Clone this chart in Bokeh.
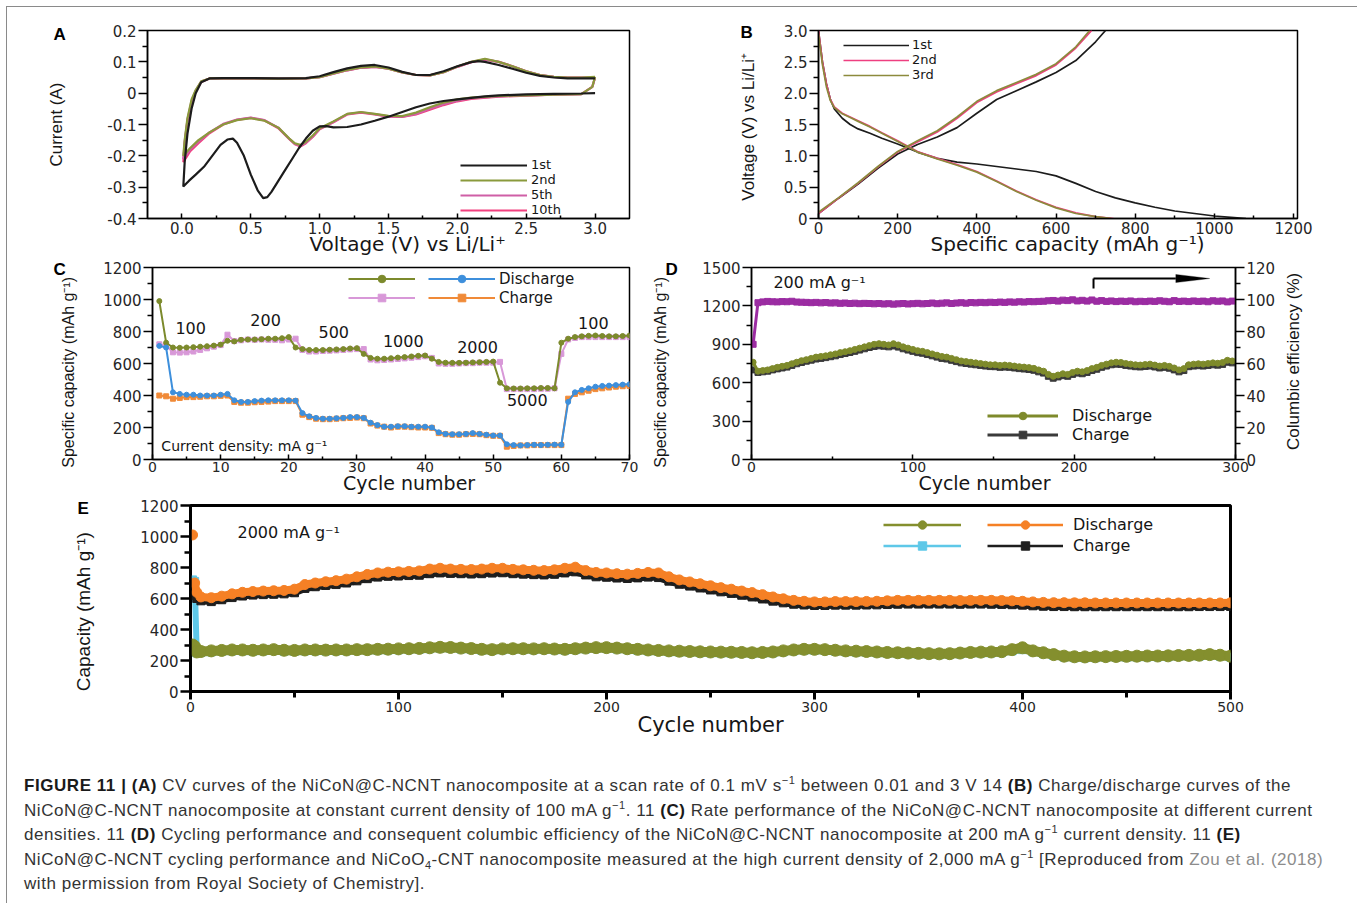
import math
from bokeh.plotting import figure
from bokeh.models import (Range1d, LinearAxis, FixedTicker, Label, Legend, LegendItem,
                          Div, Arrow, PolyAnnotation)
from bokeh.layouts import column, row
from bokeh.embed import file_html
from bokeh.resources import INLINE

# ------------------------------------------------------------------ data
# Panel A : CV curves (voltage V, current A); each loop = cathodic sweep then anodic sweep
A_V_1ST = [3.0, 2.9, 2.7, 2.5, 2.3, 2.2, 2.1, 2.0, 1.9, 1.8,
           1.7, 1.6, 1.5, 1.4, 1.3, 1.2, 1.1, 1.05, 1.0, 0.95,
           0.9, 0.85, 0.8, 0.75, 0.7, 0.65, 0.62, 0.59, 0.55, 0.5,
           0.45, 0.4, 0.37, 0.33, 0.28, 0.22, 0.16, 0.1, 0.05, 0.01,
           0.01, 0.02, 0.04, 0.07, 0.1, 0.14, 0.2, 0.3, 0.5, 0.7,
           0.9, 1.0, 1.1, 1.2, 1.3, 1.4, 1.5, 1.6, 1.7, 1.8,
           1.9, 2.0, 2.1, 2.15, 2.2, 2.3, 2.4, 2.5, 2.6, 2.7,
           2.8, 2.9, 3.0]
A_I_1ST = [0.0, -0.001, -0.002, -0.004, -0.007, -0.01, -0.015, -0.02, -0.025, -0.033,
           -0.045, -0.06, -0.075, -0.088, -0.1, -0.108, -0.109, -0.105, -0.106, -0.12,
           -0.145, -0.175, -0.21, -0.245, -0.28, -0.315, -0.332, -0.335, -0.31, -0.26,
           -0.2, -0.158, -0.145, -0.148, -0.165, -0.2, -0.235, -0.26, -0.28, -0.298,
           -0.298, -0.22, -0.13, -0.05, 0.0, 0.035, 0.047, 0.048, 0.048, 0.047,
           0.048, 0.054, 0.067, 0.079, 0.087, 0.09, 0.082, 0.068, 0.058, 0.058,
           0.07, 0.086, 0.099, 0.102, 0.1, 0.09, 0.078, 0.065, 0.055, 0.05,
           0.047, 0.047, 0.047]
A_V_CYC = [3.0, 2.98, 2.9, 2.7, 2.5, 2.3, 2.1, 2.0, 1.9, 1.8,
           1.7, 1.6, 1.5, 1.4, 1.3, 1.2, 1.1, 1.0, 0.95, 0.9,
           0.86, 0.82, 0.78, 0.7, 0.6, 0.5, 0.4, 0.3, 0.2, 0.12,
           0.06, 0.01,
           0.01, 0.02, 0.04, 0.07, 0.1, 0.14, 0.2, 0.3, 0.5, 0.7,
           0.9, 1.0, 1.1, 1.2, 1.3, 1.4, 1.5, 1.6, 1.7, 1.8,
           1.9, 2.0, 2.1, 2.2, 2.3, 2.4, 2.5, 2.6, 2.7, 2.8,
           2.9, 3.0]
A_I_2ND = [0.052, 0.02, -0.003, -0.005, -0.007, -0.009, -0.014, -0.02, -0.03, -0.045,
           -0.062, -0.073, -0.072, -0.066, -0.06, -0.066, -0.09, -0.112, -0.135, -0.155,
           -0.165, -0.16, -0.145, -0.11, -0.088, -0.08, -0.086, -0.1, -0.125, -0.15,
           -0.175, -0.2,
           -0.2, -0.15, -0.08, -0.02, 0.01, 0.038, 0.047, 0.048, 0.047, 0.046,
           0.047, 0.051, 0.063, 0.074, 0.082, 0.085, 0.078, 0.066, 0.058, 0.057,
           0.067, 0.085, 0.1, 0.11, 0.1, 0.086, 0.07, 0.058, 0.052, 0.05,
           0.05, 0.052]
A_I_5TH = [0.05, 0.02, -0.003, -0.005, -0.007, -0.01, -0.016, -0.024, -0.035, -0.05,
           -0.066, -0.075, -0.074, -0.067, -0.061, -0.067, -0.092, -0.114, -0.138, -0.158,
           -0.168, -0.162, -0.146, -0.11, -0.086, -0.078, -0.084, -0.098, -0.125, -0.155,
           -0.18, -0.21,
           -0.21, -0.155, -0.085, -0.025, 0.008, 0.037, 0.047, 0.048, 0.047, 0.046,
           0.047, 0.051, 0.062, 0.073, 0.081, 0.084, 0.078, 0.066, 0.058, 0.057,
           0.067, 0.084, 0.099, 0.108, 0.1, 0.086, 0.07, 0.058, 0.052, 0.05,
           0.05, 0.05]
A_I_10TH = [0.05, 0.02, -0.003, -0.005, -0.008, -0.011, -0.018, -0.026, -0.038, -0.053,
            -0.068, -0.076, -0.075, -0.068, -0.062, -0.068, -0.093, -0.115, -0.14, -0.16,
            -0.17, -0.163, -0.147, -0.112, -0.087, -0.079, -0.085, -0.1, -0.128, -0.16,
            -0.185, -0.22,
            -0.22, -0.16, -0.09, -0.03, 0.006, 0.036, 0.047, 0.048, 0.047, 0.046,
            0.047, 0.051, 0.062, 0.073, 0.081, 0.084, 0.078, 0.066, 0.058, 0.057,
            0.067, 0.084, 0.099, 0.107, 0.1, 0.086, 0.07, 0.058, 0.052, 0.05,
            0.05, 0.05]
A_XTICKS = [0.0, 0.5, 1.0, 1.5, 2.0, 2.5, 3.0]
A_XLABELS = ["0.0", "0.5", "1.0", "1.5", "2.0", "2.5", "3.0"]
A_YTICKS = [-0.4, -0.3, -0.2, -0.1, 0.0, 0.1, 0.2]
A_YLABELS = ["-0.4", "-0.3", "-0.2", "-0.1", "0", "0.1", "0.2"]

# Panel B : charge / discharge profiles (capacity mAh/g, voltage V)
B_Q_DIS1 = [0, 5, 10, 20, 30, 40, 60, 80, 100, 130, 160, 200, 250, 300, 350, 400, 450,
            500, 550, 600, 650, 700, 750, 800, 850, 900, 950, 1000, 1050, 1080]
B_V_DIS1 = [3.0, 2.75, 2.5, 2.15, 1.9, 1.75, 1.6, 1.5, 1.43, 1.36, 1.28, 1.19, 1.06, 0.96,
            0.9, 0.87, 0.83, 0.79, 0.75, 0.68, 0.56, 0.43, 0.33, 0.25, 0.18, 0.12, 0.08,
            0.04, 0.015, 0.0]
B_Q_CHG1 = [0, 50, 100, 150, 200, 250, 300, 350, 400, 450, 500, 550, 600, 650, 700, 725]
B_V_CHG1 = [0.08, 0.32, 0.55, 0.8, 1.03, 1.18, 1.3, 1.45, 1.68, 1.9, 2.04, 2.18, 2.33,
            2.52, 2.82, 3.0]
B_Q_DIS2 = [0, 5, 10, 20, 30, 40, 60, 80, 100, 130, 160, 200, 250, 300, 350, 400, 450,
            500, 550, 600, 650, 700, 745]
B_V_DIS2 = [3.0, 2.75, 2.5, 2.15, 1.9, 1.78, 1.68, 1.62, 1.56, 1.47, 1.37, 1.24, 1.07,
            0.96, 0.86, 0.75, 0.6, 0.44, 0.3, 0.18, 0.09, 0.03, 0.0]
B_Q_CHG2 = [0, 50, 100, 150, 200, 250, 300, 350, 400, 450, 500, 550, 600, 650, 690]
B_V_CHG2 = [0.08, 0.32, 0.56, 0.82, 1.06, 1.22, 1.38, 1.6, 1.85, 2.02, 2.15, 2.28, 2.45,
            2.72, 3.0]
B_Q_DIS3 = [0, 5, 10, 20, 30, 40, 60, 80, 100, 130, 160, 200, 250, 300, 350, 400, 450,
            500, 550, 600, 650, 700, 740]
B_V_DIS3 = [2.95, 2.7, 2.45, 2.1, 1.88, 1.77, 1.67, 1.61, 1.55, 1.46, 1.36, 1.23, 1.06,
            0.95, 0.85, 0.74, 0.59, 0.43, 0.29, 0.17, 0.08, 0.03, 0.0]
B_Q_CHG3 = [0, 50, 100, 150, 200, 250, 300, 350, 400, 450, 500, 550, 600, 650, 685]
B_V_CHG3 = [0.1, 0.33, 0.57, 0.83, 1.07, 1.24, 1.4, 1.62, 1.87, 2.04, 2.17, 2.3, 2.47,
            2.74, 3.0]
B_XTICKS = [0, 200, 400, 600, 800, 1000, 1200]
B_XLABELS = ["0", "200", "400", "600", "800", "1000", "1200"]
B_YTICKS = [0.0, 0.5, 1.0, 1.5, 2.0, 2.5, 3.0]
B_YLABELS = ["0", "0.5", "1.0", "1.5", "2.0", "2.5", "3.0"]

# Panel C : rate performance, cycles 1..70
C_CYCLES = list(range(1, 71))
C_DIS_NICON = [990, 730, 700, 698, 700, 702, 705, 708, 712, 718,
               742, 738, 748, 750, 750, 752, 755, 755, 758, 765,
               700, 690, 685, 684, 684, 686, 688, 690, 694, 696,
               660, 635, 630, 630, 633, 637, 640, 644, 648, 650,
               630, 610, 605, 604, 604, 605, 607, 608, 610, 612,
               480, 445, 444, 444, 445, 445, 447, 447, 445, 730,
               755, 765, 770, 773, 775, 772, 770, 770, 772, 775]
C_CHG_NICON = [720, 712, 670, 668, 670, 675, 685, 695, 705, 715,
               780, 740, 745, 750, 748, 750, 748, 748, 745, 750,
               755, 685, 675, 675, 678, 680, 682, 685, 688, 690,
               690, 625, 620, 622, 625, 628, 632, 636, 640, 645,
               635, 600, 598, 598, 600, 602, 602, 605, 605, 605,
               610, 440, 440, 440, 440, 440, 442, 442, 445, 660,
               750, 760, 765, 765, 765, 765, 765, 765, 765, 765]
C_DIS_REF = [710, 700, 420, 410, 405, 405, 400, 400, 400, 405,
             410, 370, 360, 360, 365, 368, 370, 370, 370, 370,
             368, 290, 270, 260, 255, 255, 258, 260, 265, 265,
             260, 230, 215, 205, 205, 208, 208, 205, 205, 205,
             200, 170, 160, 158, 158, 160, 165, 160, 155, 150,
             150, 95, 90, 88, 90, 92, 90, 92, 93, 92,
             360, 420, 435, 445, 455, 460, 462, 465, 468, 470]
C_CHG_REF = [400, 395, 380, 385, 390, 390, 392, 395, 395, 398,
             400, 360, 355, 355, 358, 360, 362, 365, 365, 365,
             365, 280, 265, 255, 252, 252, 255, 258, 260, 262,
             258, 225, 212, 205, 200, 205, 205, 202, 200, 200,
             198, 165, 158, 155, 155, 158, 160, 158, 152, 148,
             148, 80, 85, 88, 88, 90, 90, 90, 90, 90,
             380, 410, 420, 430, 440, 445, 450, 455, 458, 460]
C_RATE_LABELS = ["100", "200", "500", "1000", "2000", "5000", "100"]
C_RATE_X = [5.6, 16.6, 26.6, 36.8, 47.7, 55.0, 64.7]
C_RATE_Y = [825, 869, 794, 738, 706, 369, 856]
C_XTICKS = [0, 10, 20, 30, 40, 50, 60, 70]
C_YTICKS = [0, 200, 400, 600, 800, 1000, 1200]

# Panel D : cycling at 200 mA/g (every third cycle)
D_CYCLES = list(range(1, 300, 3))
D_DIS = [760, 690, 695, 700, 710, 720, 728, 735, 748, 760,
         772, 780, 790, 800, 805, 810, 818, 825, 835, 842,
         850, 860, 870, 880, 890, 900, 905, 900, 895, 905,
         895, 880, 870, 860, 850, 845, 835, 825, 815, 805,
         800, 790, 780, 770, 765, 760, 755, 750, 745, 740,
         740, 735, 738, 735, 730, 725, 722, 718, 712, 700,
         690, 665, 650, 660, 670, 665, 680, 690, 685, 695,
         710, 720, 735, 745, 755, 760, 758, 750, 745, 740,
         738, 742, 745, 738, 730, 735, 728, 715, 700, 710,
         740, 745, 748, 745, 750, 755, 752, 758, 775, 770]
D_CHG = [700, 680, 685, 690, 700, 708, 715, 722, 735, 748,
         758, 768, 776, 785, 790, 796, 803, 810, 820, 828,
         836, 845, 855, 865, 875, 883, 888, 885, 880, 887,
         878, 865, 855, 845, 835, 830, 820, 810, 800, 790,
         785, 775, 765, 755, 750, 745, 740, 735, 730, 726,
         725, 720, 722, 720, 715, 710, 707, 703, 697, 685,
         675, 650, 635, 645, 655, 650, 665, 675, 670, 680,
         695, 705, 720, 730, 740, 745, 743, 735, 730, 725,
         723, 727, 730, 723, 715, 720, 713, 700, 685, 695,
         725, 730, 733, 730, 735, 740, 737, 743, 760, 755]
D_CE = [72.0, 98.0, 98.5, 98.8, 98.6, 98.5, 98.7, 98.6, 98.9, 98.4,
        98.3, 98.2, 98.0, 98.2, 97.9, 98.1, 97.8, 97.9, 97.6, 97.8,
        97.5, 97.7, 97.4, 97.6, 97.5, 97.3, 97.5, 97.2, 97.4, 97.1,
        97.3, 97.5, 97.2, 97.4, 97.6, 97.3, 97.5, 97.8, 97.4, 97.7,
        97.9, 97.5, 97.8, 98.0, 97.7, 98.1, 97.9, 98.2, 98.0, 98.3,
        98.1, 98.4, 98.2, 98.5, 98.3, 98.6, 98.4, 98.7, 98.6, 98.8,
        98.9, 99.2, 99.4, 99.0, 99.6, 99.3, 99.8, 99.1, 99.5, 99.0,
        99.7, 98.9, 99.3, 98.8, 99.1, 98.7, 99.0, 98.8, 99.1, 98.6,
        98.9, 98.7, 99.0, 98.8, 99.2, 98.9, 98.6, 99.3, 98.8, 99.0,
        98.7, 99.1, 98.8, 99.0, 98.6, 99.2, 98.9, 99.1, 98.5, 99.0]
D_XTICKS = [0, 100, 200, 300]
D_YTICKS = [0, 300, 600, 900, 1200, 1500]
D_Y2TICKS = [0, 20, 40, 60, 80, 100, 120]

# Panel E : cycling at 2000 mA/g
E_CYCLES = [1, 2, 3] + list(range(5, 501, 5))
E_DIS_NICON = [1010, 700, 640,
               610, 605, 615, 630, 640, 645, 648, 650, 652, 660,
               690, 700, 708, 715, 725, 740, 755, 765, 770, 772,
               775, 778, 790, 795, 790, 788, 787, 790, 795, 795,
               788, 785, 782, 780, 785, 795, 802, 780, 768, 765,
               760, 757, 762, 768, 765, 740, 720, 707, 695, 682,
               670, 660, 648, 638, 625, 610, 598, 588, 582, 578,
               578, 580, 580, 580, 581, 582, 585, 588, 588, 588,
               588, 588, 588, 587, 588, 588, 588, 587, 585, 582,
               578, 575, 573, 573, 572, 572, 571, 571, 571, 571,
               571, 571, 571, 571, 571, 571, 571, 571, 571, 572]
E_CHG_NICON = [620, 640, 600,
               585, 580, 592, 606, 616, 622, 625, 627, 630, 637,
               665, 676, 684, 690, 700, 714, 728, 738, 743, 745,
               748, 750, 760, 765, 762, 760, 758, 760, 764, 766,
               760, 757, 754, 752, 756, 765, 772, 752, 740, 737,
               732, 729, 733, 738, 735, 712, 692, 680, 668, 655,
               643, 633, 621, 610, 597, 583, 572, 563, 558, 555,
               555, 557, 557, 557, 558, 559, 561, 563, 564, 564,
               564, 564, 564, 563, 564, 564, 563, 562, 560, 557,
               553, 550, 548, 548, 547, 547, 547, 547, 547, 547,
               547, 547, 547, 547, 547, 547, 548, 548, 548, 549]
E_DIS_REF = [300, 290, 255,
             258, 262, 265, 268, 268, 266, 268, 270, 266, 265,
             268, 268, 267, 268, 268, 270, 270, 272, 273, 275,
             276, 278, 282, 285, 284, 280, 277, 272, 270, 275,
             276, 276, 275, 276, 274, 272, 276, 280, 283, 283,
             280, 276, 272, 268, 265, 262, 260, 258, 256, 255,
             254, 253, 252, 250, 252, 255, 262, 268, 272, 272,
             270, 266, 262, 260, 258, 255, 252, 250, 248, 246,
             244, 243, 244, 248, 252, 254, 255, 257, 270, 282,
             262, 250, 238, 228, 224, 223, 224, 225, 226, 227,
             228, 229, 229, 230, 232, 233, 234, 238, 234, 228]
E_CHG_REF = [720, 710, 250,
             252, 256, 259, 262, 262, 260, 262, 264, 260, 259,
             262, 262, 261, 262, 262, 264, 264, 266, 267, 269,
             270, 272, 276, 279, 278, 274, 271, 266, 264, 269,
             270, 270, 269, 270, 268, 266, 270, 274, 277, 277,
             274, 270, 266, 262, 259, 256, 254, 252, 250, 249,
             248, 247, 246, 244, 246, 249, 256, 262, 266, 266,
             264, 260, 256, 254, 252, 249, 246, 244, 242, 240,
             238, 237, 238, 242, 246, 248, 249, 251, 262, 270,
             256, 244, 232, 222, 218, 217, 218, 219, 220, 221,
             222, 223, 223, 224, 226, 227, 228, 232, 228, 222]
E_XTICKS = [0, 100, 200, 300, 400, 500]
E_YTICKS = [0, 200, 400, 600, 800, 1000, 1200]

for arr in (A_I_1ST,):
    assert len(arr) == len(A_V_1ST)
for arr in (A_I_2ND, A_I_5TH, A_I_10TH):
    assert len(arr) == len(A_V_CYC)
for arr in (C_DIS_NICON, C_CHG_NICON, C_DIS_REF, C_CHG_REF):
    assert len(arr) == len(C_CYCLES)
for arr in (D_DIS, D_CHG, D_CE):
    assert len(arr) == len(D_CYCLES)
for arr in (E_DIS_NICON, E_CHG_NICON, E_DIS_REF, E_CHG_REF):
    assert len(arr) == len(E_CYCLES)

# ------------------------------------------------------------------ style
TICK_FONT = "DejaVu Sans"
HFONT = "DejaVu Sans"
VFONT = "Liberation Sans"
LETTER_FONT = "Liberation Sans"
INK = "#161616"
NAN = float("nan")
NB = "\u00a0"          # no-break space, used to nudge axis titles along their axis


def make_fig(w, h, xr, yr, bl, br, bt, bb, letter, l_off, l_stand, lw=1.5):
    p = figure(width=w, height=h, x_range=Range1d(*xr), y_range=Range1d(*yr),
               output_backend="svg", toolbar_location=None,
               min_border_left=bl, min_border_right=br,
               min_border_top=bt, min_border_bottom=bb)
    p.grid.visible = False
    p.outline_line_color = "black"
    p.outline_line_width = lw
    p.outline_line_alpha = 1.0
    p.background_fill_color = "white"
    p.border_fill_color = "white"
    # panel letter drawn as the figure title, pulled into the top-left corner
    p.title.text = letter
    p.title.align = "left"
    p.title.vertical_align = "bottom"
    p.title.offset = l_off
    p.title.standoff = l_stand
    p.title.text_font = LETTER_FONT
    p.title.text_font_size = "17px"
    p.title.text_font_style = "bold"
    p.title.text_color = "black"
    return p


def style_axis(ax, ticks, labels, minor, t_out, t_in, m_out, m_in,
               lw=1.5, size="15px", standoff=3, title=None, tfont=HFONT, tsize="20px",
               tstand=5):
    ax.ticker = FixedTicker(ticks=ticks, minor_ticks=minor)
    ax.major_label_overrides = {t: l for t, l in zip(ticks, labels)}
    ax.major_label_text_font = TICK_FONT
    ax.major_label_text_font_size = size
    ax.major_label_text_color = "#262626"
    ax.major_label_standoff = standoff
    ax.major_tick_out = t_out
    ax.major_tick_in = t_in
    ax.minor_tick_out = m_out
    ax.minor_tick_in = m_in
    ax.axis_line_color = "black"
    ax.axis_line_width = lw
    ax.major_tick_line_color = "black"
    ax.major_tick_line_width = lw
    ax.minor_tick_line_color = "black"
    ax.minor_tick_line_width = lw
    ax.axis_label = title
    ax.axis_label_text_font = tfont
    ax.axis_label_text_font_size = tsize
    ax.axis_label_text_font_style = "normal"
    ax.axis_label_text_color = INK
    ax.axis_label_standoff = tstand


def text(p, s, x, y, size, font=HFONT, style="normal", align="center", color=INK):
    p.add_layout(Label(x=x, y=y, x_units="data", y_units="data", text=s,
                       text_font=font, text_font_size=size, text_font_style=style,
                       text_align=align, text_baseline="middle", text_color=color))


def legend(p, items, loc, gw, gh, size, standoff=5, font=HFONT):
    lg = Legend(items=items, location=loc, glyph_width=gw, glyph_height=gh,
                label_height=gh, label_standoff=standoff, spacing=0, padding=0, margin=0,
                border_line_color=None, background_fill_alpha=0.0,
                label_text_font=font, label_text_font_size=size, label_text_color=INK)
    p.add_layout(lg)
    return lg


# ------------------------------------------------------------------ panel A
pA = make_fig(683, 251, (-0.25, 3.25), (-0.4, 0.2), 140, 61, 23, 39, "A", -94, -26)
style_axis(pA.xaxis[0], A_XTICKS, A_XLABELS, [0.25, 0.75, 1.25, 1.75, 2.25, 2.75], 0, 5, 0, 3,
           title=NB * 7 + "Voltage (V)  vs Li/Li\u207a", tsize="20px", tstand=-5)
style_axis(pA.yaxis[0], A_YTICKS, A_YLABELS,
           [-0.35, -0.25, -0.15, -0.05, 0.05, 0.15], 9, 0, 5, 0, standoff=2,
           title="Current (A)", tfont=VFONT, tsize="17px", tstand=38)
COL_A = {"1st": "#1c1c1c", "2nd": "#8a9a3c", "5th": "#cf5fa6", "10th": "#f2407f"}
rA10 = pA.line(A_V_CYC, A_I_10TH, line_color=COL_A["10th"], line_width=2.2)
rA5 = pA.line(A_V_CYC, A_I_5TH, line_color=COL_A["5th"], line_width=2.2)
rA2 = pA.line(A_V_CYC, A_I_2ND, line_color=COL_A["2nd"], line_width=2.2)
rA1 = pA.line(A_V_1ST, A_I_1ST, line_color=COL_A["1st"], line_width=2.2)
legend(pA, [LegendItem(label="1st", renderers=[rA1]), LegendItem(label="2nd", renderers=[rA2]),
            LegendItem(label="5th", renderers=[rA5]), LegendItem(label="10th", renderers=[rA10])],
       (313, 1), 67, 14, "13px", standoff=4)

# ------------------------------------------------------------------ panel B
pB = make_fig(660, 251, (0, 1210), (0, 3.0), 128, 53, 23, 39, "B", -78, -22)
style_axis(pB.xaxis[0], B_XTICKS, B_XLABELS, [100, 300, 500, 700, 900, 1100], 0, 5, 0, 3,
           title=NB * 3 + "Specific capacity (mAh g\u207b\u00b9)", tsize="20px", tstand=-5)
style_axis(pB.yaxis[0], B_YTICKS, B_YLABELS, [0.25, 0.75, 1.25, 1.75, 2.25, 2.75],
           9, 0, 5, 0, standoff=2,
           title="Voltage (V)  vs Li/Li\u207a", tfont=VFONT, tsize="17px", tstand=23)
COL_B = {"1st": "#1c1c1c", "2nd": "#ee3f80", "3rd": "#8c8a3c"}
rB1 = pB.line(B_Q_DIS1, B_V_DIS1, line_color=COL_B["1st"], line_width=1.7)
pB.line(B_Q_CHG1, B_V_CHG1, line_color=COL_B["1st"], line_width=1.7)
rB2 = pB.line(B_Q_DIS2, B_V_DIS2, line_color=COL_B["2nd"], line_width=1.7)
pB.line(B_Q_CHG2, B_V_CHG2, line_color=COL_B["2nd"], line_width=1.7)
rB3 = pB.line(B_Q_DIS3, B_V_DIS3, line_color=COL_B["3rd"], line_width=1.7)
pB.line(B_Q_CHG3, B_V_CHG3, line_color=COL_B["3rd"], line_width=1.7)
legend(pB, [LegendItem(label="1st", renderers=[rB1]), LegendItem(label="2nd", renderers=[rB2]),
            LegendItem(label="3rd", renderers=[rB3])],
       (25, 136), 66, 14, "13px", standoff=3)

# ------------------------------------------------------------------ panel C
pC = make_fig(638, 239, (0, 70), (0, 1200), 145, 16, 9, 38, "C", -99, -22)
style_axis(pC.xaxis[0], C_XTICKS, [str(t) for t in C_XTICKS], [5, 15, 25, 35, 45, 55, 65],
           0, 5, 0, 3, size="14px", standoff=2,
           title=NB * 6 + "Cycle number", tsize="19px", tstand=-3)
style_axis(pC.yaxis[0], C_YTICKS, [str(t) for t in C_YTICKS],
           [100, 300, 500, 700, 900, 1100], 9, 0, 5, 0, standoff=2,
           title="Specific capacity (mAh g\u207b\u00b9)" + NB * 4, tfont=VFONT, tsize="16px",
           tstand=23)
COL_C = {"dis_n": "#7c8a2c", "chg_n": "#d898d8", "dis_r": "#3d8fdc", "chg_r": "#f08a38"}
cl1 = pC.line(C_CYCLES, C_CHG_NICON, line_color=COL_C["chg_n"], line_width=2)
cs1 = pC.scatter(C_CYCLES, C_CHG_NICON, marker="square", size=5, color=COL_C["chg_n"])
cl2 = pC.line(C_CYCLES, C_DIS_NICON, line_color=COL_C["dis_n"], line_width=2)
cs2 = pC.scatter(C_CYCLES, C_DIS_NICON, marker="circle", size=5, color=COL_C["dis_n"])
cl3 = pC.line(C_CYCLES, C_CHG_REF, line_color=COL_C["chg_r"], line_width=2)
cs3 = pC.scatter(C_CYCLES, C_CHG_REF, marker="square", size=5, color=COL_C["chg_r"])
cl4 = pC.line(C_CYCLES, C_DIS_REF, line_color=COL_C["dis_r"], line_width=2)
cs4 = pC.scatter(C_CYCLES, C_DIS_REF, marker="circle", size=5, color=COL_C["dis_r"])
legend(pC, [LegendItem(label=" ", renderers=[cl2, cs2]), LegendItem(label=" ", renderers=[cl1, cs1])],
       (196, 152), 67, 19, "15px", standoff=2)
legend(pC, [LegendItem(label="Discharge", renderers=[cl4, cs4]),
            LegendItem(label="Charge", renderers=[cl3, cs3])],
       (276, 152), 67, 19, "15px", standoff=4)
for s, x, y in zip(C_RATE_LABELS, C_RATE_X, C_RATE_Y):
    text(pC, s, x, y, "16px")
text(pC, "Current density: mA g\u207b\u00b9", 1.3, 87, "14px", align="left")

# ------------------------------------------------------------------ panel D
pD = make_fig(705, 239, (0, 300), (0, 1500), 106, 115, 9, 38, "D", -86, -22)
pD.extra_y_ranges = {"ce": Range1d(0, 120)}
axD2 = LinearAxis(y_range_name="ce")
pD.add_layout(axD2, "right")
style_axis(pD.xaxis[0], D_XTICKS, [str(t) for t in D_XTICKS], [50, 150, 250], 0, 5, 0, 3,
           size="14px", standoff=2, title="Cycle number" + NB * 3, tsize="19px", tstand=-3)
style_axis(pD.yaxis[0], D_YTICKS, [str(t) for t in D_YTICKS], [150, 450, 750, 1050, 1350],
           9, 0, 5, 0, standoff=2,
           title="Specific capacity (mAh g\u207b\u00b9)" + NB * 4, tfont=VFONT, tsize="16px",
           tstand=30)
style_axis(axD2, D_Y2TICKS, [str(t) for t in D_Y2TICKS], [10, 30, 50, 70, 90, 110],
           9, 0, 5, 0, standoff=2,
           title=NB * 2 + "Columbic efficiency (%)", tfont=VFONT, tsize="17px", tstand=15)
# read the right-hand title bottom-to-top like the reference, anchored at the axis start
try:
    axD2.axis_label_align = "start"
    axD2.axis_label_orientation = math.pi / 2
except (AttributeError, ValueError):
    axD2.title = None
    axD2.axis_label = "Columbic efficiency (%)"
COL_D = {"dis": "#7e8a2b", "chg": "#3a3a3a", "ce": "#9b2ca2"}
dl1 = pD.line(D_CYCLES, D_CHG, line_color=COL_D["chg"], line_width=3)
ds1 = pD.scatter(D_CYCLES, D_CHG, marker="square", size=6, color=COL_D["chg"])
dl2 = pD.line(D_CYCLES, D_DIS, line_color=COL_D["dis"], line_width=3)
ds2 = pD.scatter(D_CYCLES, D_DIS, marker="circle", size=6, color=COL_D["dis"])
pD.line(D_CYCLES, D_CE, line_color=COL_D["ce"], line_width=3, y_range_name="ce")
pD.scatter(D_CYCLES, D_CE, marker="square", size=6, color=COL_D["ce"], y_range_name="ce")
legend(pD, [LegendItem(label="Discharge", renderers=[dl2, ds2]),
            LegendItem(label="Charge", renderers=[dl1, ds1])],
       (236, 15), 71, 19, "16px", standoff=14)
# bent arrow pointing to the right-hand axis
ARROW_X0, ARROW_Y0, ARROW_Y1, ARROW_X1, HEAD_X0 = 212, 1336, 1414, 284, 263
pD.add_layout(Arrow(x_start=ARROW_X0, y_start=ARROW_Y0, x_end=ARROW_X0, y_end=ARROW_Y1,
                    end=None, line_width=2, line_color="black"))
pD.add_layout(Arrow(x_start=ARROW_X0, y_start=ARROW_Y1, x_end=HEAD_X0, y_end=ARROW_Y1,
                    end=None, line_width=2, line_color="black"))
pD.add_layout(PolyAnnotation(xs=[HEAD_X0, ARROW_X1, HEAD_X0],
                             ys=[ARROW_Y1 + 32, ARROW_Y1, ARROW_Y1 - 32],
                             fill_color="black", fill_alpha=1.0, line_color="black"))
text(pD, "200 mA g\u207b\u00b9", 13.6, 1383, "16px", align="left")

# ------------------------------------------------------------------ panel E
pE = make_fig(1343, 248, (0, 500), (0, 1200), 183, 120, 8, 54, "E", -113, -24, lw=3)
style_axis(pE.xaxis[0], E_XTICKS, [str(t) for t in E_XTICKS], [50, 150, 250, 350, 450],
           8, 0, 6, 0, lw=3, size="14px", standoff=2,
           title="Cycle number", tsize="21px", tstand=-2)
style_axis(pE.yaxis[0], E_YTICKS, [str(t) for t in E_YTICKS],
           [100, 300, 500, 700, 900, 1100], 10, 0, 6, 0, lw=2.5, standoff=2,
           title="Capacity (mAh g\u207b\u00b9)" + NB * 5, tfont=VFONT, tsize="19px", tstand=43)
COL_E = {"dis_r": "#848f2e", "chg_r": "#5ec8e8", "dis_n": "#f58025", "chg_n": "#1e1e1e"}
pE.line(E_CYCLES, E_CHG_REF, line_color=COL_E["chg_r"], line_width=6)
pE.scatter(E_CYCLES, E_CHG_REF, marker="square", size=8, color=COL_E["chg_r"])
pE.line(E_CYCLES, E_DIS_REF, line_color=COL_E["dis_r"], line_width=10)
pE.scatter(E_CYCLES, E_DIS_REF, marker="circle", size=12, color=COL_E["dis_r"])
pE.line(E_CYCLES, E_CHG_NICON, line_color=COL_E["chg_n"], line_width=7)
pE.scatter(E_CYCLES, E_CHG_NICON, marker="square", size=8, color=COL_E["chg_n"])
pE.line(E_CYCLES[1:], E_DIS_NICON[1:], line_color=COL_E["dis_n"], line_width=8)
pE.scatter(E_CYCLES, E_DIS_NICON, marker="circle", size=10, color=COL_E["dis_n"])
# thin, empty (NaN) proxies for the legend keys
kl1 = pE.line([NAN], [NAN], line_color=COL_E["dis_r"], line_width=2.5)
ks1 = pE.scatter([NAN], [NAN], marker="circle", size=8, color=COL_E["dis_r"])
kl2 = pE.line([NAN], [NAN], line_color=COL_E["chg_r"], line_width=2.5)
ks2 = pE.scatter([NAN], [NAN], marker="square", size=7, color=COL_E["chg_r"])
kl3 = pE.line([NAN], [NAN], line_color=COL_E["dis_n"], line_width=2.5)
ks3 = pE.scatter([NAN], [NAN], marker="circle", size=8, color=COL_E["dis_n"])
kl4 = pE.line([NAN], [NAN], line_color=COL_E["chg_n"], line_width=2.5)
ks4 = pE.scatter([NAN], [NAN], marker="square", size=7, color=COL_E["chg_n"])
legend(pE, [LegendItem(label=" ", renderers=[kl1, ks1]), LegendItem(label=" ", renderers=[kl2, ks2])],
       (693, 135), 78, 21, "16px", standoff=2)
legend(pE, [LegendItem(label="Discharge", renderers=[kl3, ks3]),
            LegendItem(label="Charge", renderers=[kl4, ks4])],
       (797, 135), 76, 21, "16px", standoff=10)
text(pE, "2000 mA g\u207b\u00b9", 22.6, 1025, "16px", align="left")

# ------------------------------------------------------------------ caption
SUP = '<sup style="font-size:11px;line-height:0;">%s</sup>'
SUB = '<sub style="font-size:11px;line-height:0;">%s</sub>'
B = '<b style="color:#1a1a1a">%s</b>'
CAPTION = (
    '<div style="font-family:\'Liberation Sans\',Arial,sans-serif;font-size:17px;'
    'letter-spacing:0.55px;line-height:24.5px;color:#333333;padding:24px 0 0 12px;'
    'white-space:nowrap;">'
    + B % 'FIGURE 11 | (A)' + ' CV curves of the NiCoN@C-NCNT nanocomposite at a '
    'scan rate of 0.1 mV s' + SUP % '\u22121' + ' between 0.01 and 3 V 14 ' + B % '(B)' +
    ' Charge/discharge curves of the<br>'
    'NiCoN@C-NCNT nanocomposite at constant current density of 100 mA g' + SUP % '\u22121' +
    '. 11 ' + B % '(C)' + ' Rate performance of the NiCoN@C-NCNT nanocomposite at '
    'different current<br>'
    'densities. 11 ' + B % '(D)' + ' Cycling performance and consequent columbic '
    'efficiency of the NiCoN@C-NCNT nanocomposite at 200 mA g' + SUP % '\u22121' +
    ' current density. 11 ' + B % '(E)' + '<br>'
    'NiCoN@C-NCNT cycling performance and NiCoO' + SUB % '4' + '-CNT nanocomposite measured at '
    'the high current density of 2,000 mA g' + SUP % '\u22121' + ' [Reproduced from '
    '<span style="color:#8c8c8c">Zou et al. (2018)</span><br>'
    'with permission from Royal Society of Chemistry].'
    '</div>'
)
cap = Div(text=CAPTION, width=1343, height=151)

layout = column(row(pA, pB), row(pC, pD), pE, cap,
                margin=(7, 0, 0, 7), styles={"outline": "1px solid #8a8a8a"})

open("out.html", "w").write(file_html(layout, INLINE))
